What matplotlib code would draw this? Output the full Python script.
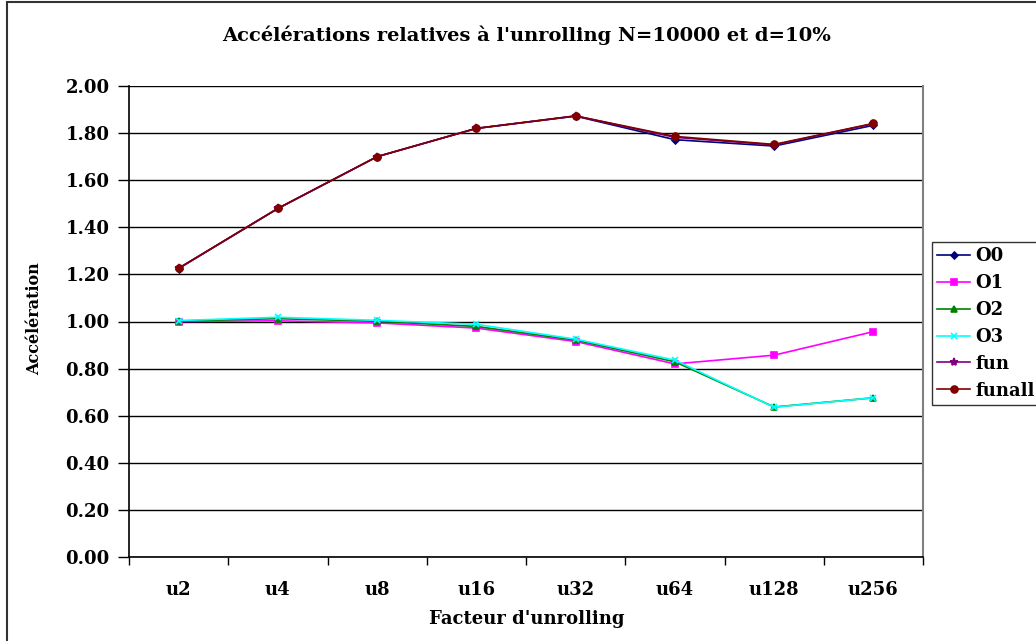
import matplotlib
matplotlib.use("Agg")
import matplotlib.pyplot as plt
from matplotlib.patches import Rectangle

categories = ["u2", "u4", "u8", "u16", "u32", "u64", "u128", "u256"]
O0 = [1.225, 1.48, 1.70, 1.82, 1.872, 1.772, 1.745, 1.833]
O1 = [1.000, 1.003, 0.994, 0.972, 0.915, 0.820, 0.857, 0.957]
O2 = [1.002, 1.012, 1.001, 0.979, 0.921, 0.829, 0.637, 0.676]
O3 = [1.004, 1.018, 1.005, 0.988, 0.925, 0.836, 0.636, 0.676]
fun = [1.226, 1.48, 1.70, 1.82, 1.873, 1.782, 1.750, 1.840]
funall = [1.226, 1.48, 1.70, 1.82, 1.873, 1.786, 1.752, 1.841]
y_ticks = [0.0, 0.2, 0.4, 0.6, 0.8, 1.0, 1.2, 1.4, 1.6, 1.8, 2.0]

title = "Accélérations relatives à l'unrolling N=10000 et d=10%"
xlabel = "Facteur d'unrolling"
ylabel = "Accélération"

plt.rcParams['font.family'] = ['DejaVu Serif']
plt.rcParams['font.weight'] = 'bold'

fig = plt.figure(figsize=(10.36, 6.41), dpi=100)
ax = fig.add_axes([129/1036, 1-557/641, (923-129)/1036, (557-86)/641])

x = list(range(len(categories)))
series = [
    ("O0", O0, "#000080", "D", 3.5),
    ("O1", O1, "#FF00FF", "s", 5),
    ("O2", O2, "#008000", "^", 5),
    ("O3", O3, "#00FFFF", "x", 5),
    ("fun", fun, "#800080", "*", 6),
    ("funall", funall, "#800000", "o", 5),
]
for name, vals, col, mk, ms in series:
    ax.plot(x, vals, color=col, marker=mk, markersize=ms, linewidth=1.2,
            label=name, markeredgewidth=1.2)

ax.set_xlim(-0.5, len(categories) - 0.5)
ax.set_ylim(0, 2.0)
ax.set_yticks(y_ticks)
ax.set_yticklabels([f"{v:.2f}" for v in y_ticks], fontsize=13, fontweight='bold')
ax.yaxis.grid(True, color='black', linewidth=1.0)
ax.set_axisbelow(True)
ax.set_xticks(x)
ax.set_xticklabels(categories, fontsize=13, fontweight='bold')
ax.tick_params(axis='x', length=0, pad=17)
ax.set_xticks([i + 0.5 for i in range(-1, len(categories))], minor=True)
ax.tick_params(axis='x', which='minor', length=6, width=1, direction='out')
ax.tick_params(axis='y', length=8, width=1, direction='out', pad=6)

ax.spines['top'].set_visible(False)
ax.spines['right'].set_color('#808080')
ax.spines['right'].set_linewidth(1.5)
ax.spines['left'].set_linewidth(1.2)
ax.spines['bottom'].set_linewidth(1.2)

fig.text(527/1036, 1-35/641, title, ha='center', va='center', fontsize=14, fontweight='bold')
fig.text(527/1036, 1-619/641, xlabel, ha='center', va='center', fontsize=13, fontweight='bold')
fig.text(35/1036, 1-319/641, ylabel, ha='center', va='center', rotation=90, fontsize=11.5, fontweight='bold')

leg = fig.legend(loc='upper left', bbox_to_anchor=(932/1036, 1-242/641),
                 frameon=True, fancybox=False, edgecolor='black',
                 prop={'size': 13, 'weight': 'bold'}, handlelength=1.8,
                 handletextpad=0.3, labelspacing=0.49, borderpad=0.3,
                 borderaxespad=0)
leg.get_frame().set_linewidth(1.0)

fig.patches.append(Rectangle((7/1036, -0.1), 1.2, 1 - 2/641 + 0.1, transform=fig.transFigure,
                             fill=False, edgecolor='#333333', linewidth=1.5))

fig.savefig("out.png", dpi=100)
